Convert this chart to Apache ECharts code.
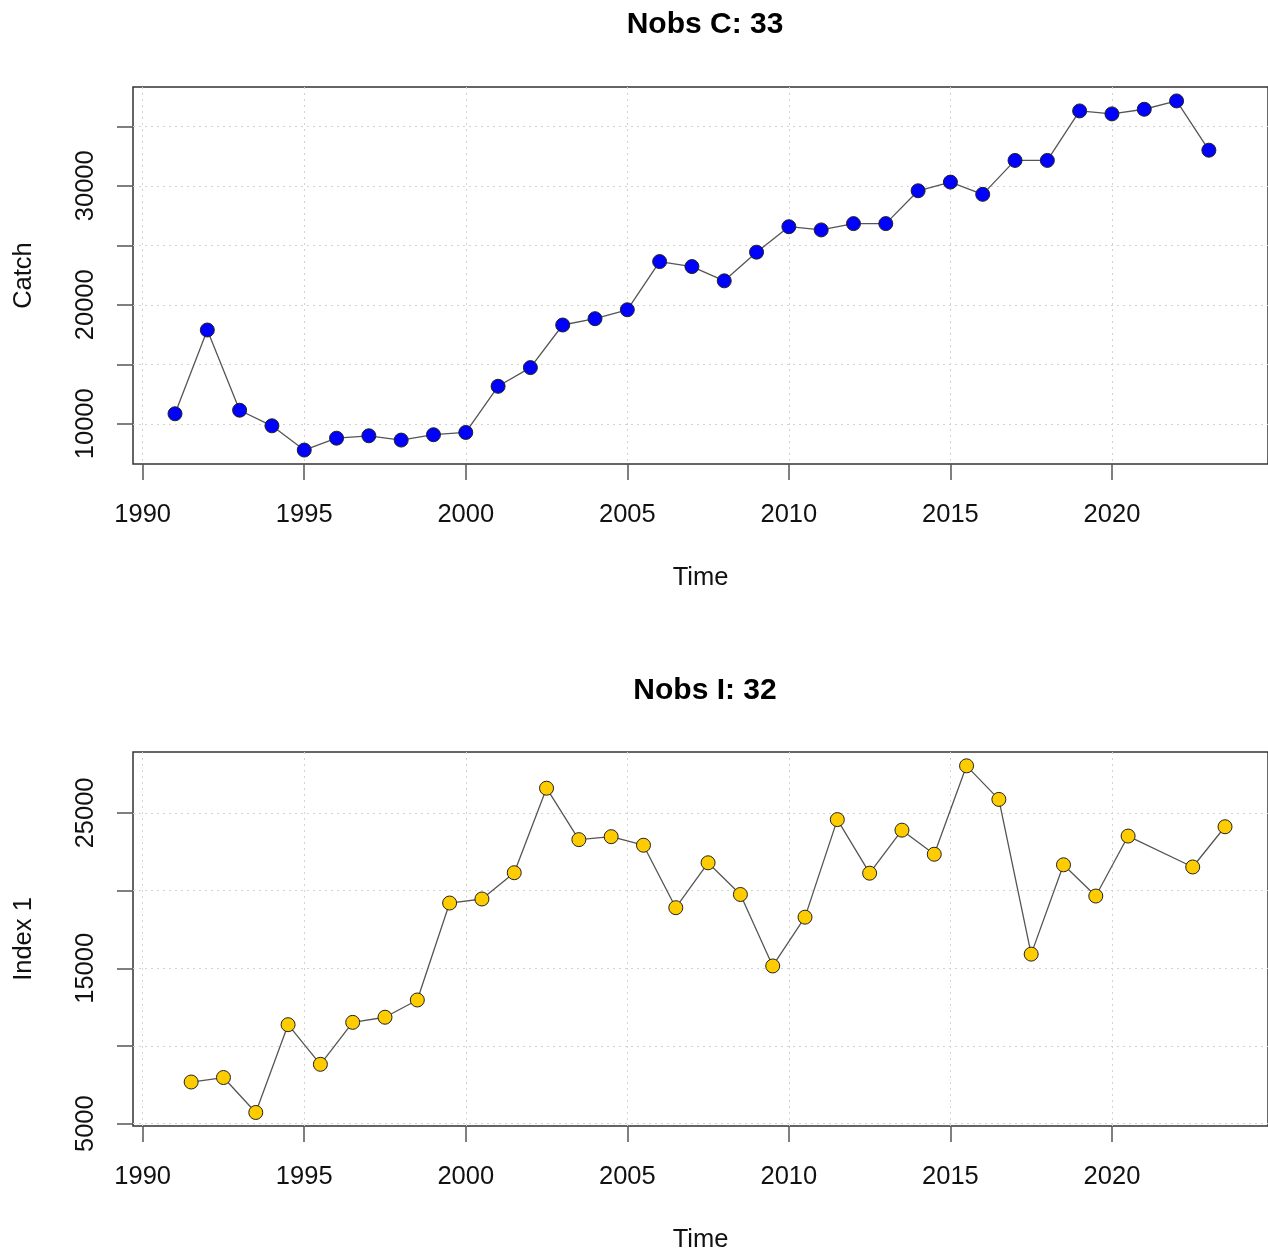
<!DOCTYPE html>
<html>
<head>
<meta charset="utf-8">
<title>Nobs C / Nobs I</title>
<script src="https://cdn.jsdelivr.net/npm/echarts@6/dist/echarts.min.js"></script>
<style>
  html, body { margin: 0; padding: 0; background: #fff; }
  #chart { width: 1268px; height: 1254px; }
</style>
</head>
<body>
<div id="chart"></div>
<script>
// Catch observations (one per year)
const catchYears = [1991, 1992, 1993, 1994, 1995, 1996, 1997, 1998, 1999, 2000,
  2001, 2002, 2003, 2004, 2005, 2006, 2007, 2008, 2009, 2010,
  2011, 2012, 2013, 2014, 2015, 2016, 2017, 2018, 2019, 2020,
  2021, 2022, 2023];
const catchValues = [10840, 17880, 11140, 9830, 7790, 8790, 8990, 8630, 9080, 9270,
  13150, 14720, 18300, 18830, 19580, 23630, 23210, 22010, 24420, 26560,
  26290, 26820, 26820, 29580, 30310, 29280, 32130, 32130, 36290, 36040,
  36430, 37130, 32990];

// Index 1 observations (mid-year survey; 2021.5 missing)
const indexYears = [1991.5, 1992.5, 1993.5, 1994.5, 1995.5, 1996.5, 1997.5, 1998.5, 1999.5, 2000.5,
  2001.5, 2002.5, 2003.5, 2004.5, 2005.5, 2006.5, 2007.5, 2008.5, 2009.5, 2010.5,
  2011.5, 2012.5, 2013.5, 2014.5, 2015.5, 2016.5, 2017.5, 2018.5, 2019.5, 2020.5,
  2022.5, 2023.5];
const indexValues = [7680, 7970, 5720, 11370, 8820, 11520, 11850, 12960, 19200, 19460,
  21150, 26590, 23280, 23470, 22920, 18900, 21790, 19750, 15150, 18290,
  24570, 21120, 23890, 22340, 28030, 25870, 15910, 21660, 19650, 23510,
  21520, 24110];

// Axis ticks and labels
const timeTicks = [1990, 1995, 2000, 2005, 2010, 2015, 2020];
const catchTicks = [10000, 15000, 20000, 25000, 30000, 35000];
const catchLabels = [10000, 20000, 30000];
const indexTicks = [5000, 10000, 15000, 20000, 25000];
const indexLabels = [5000, 15000, 25000];

const FONT = '"Liberation Sans", Arial, Helvetica, sans-serif';
const TICK_COLOR = '#555';
const GRID_COLOR = '#d3d3d3';
const plain = v => String(v);

function xAxisFor(gridIndex) {
  return {
    type: 'value', gridIndex,
    min: 1989.7, max: 2024.83,
    name: 'Time', nameLocation: 'middle', nameGap: 101,
    nameTextStyle: { fontFamily: FONT, fontSize: 25.5, color: '#111' },
    axisLine: { show: false },
    axisTick: { show: true, length: 16, customValues: timeTicks,
      lineStyle: { color: TICK_COLOR, width: 1.5 } },
    axisLabel: { customValues: timeTicks, formatter: plain, margin: 38,
      fontFamily: FONT, fontSize: 25.5, color: '#111' },
    splitLine: { show: true, lineStyle: { color: GRID_COLOR, type: [2, 4], width: 1 } }
  };
}

function yAxisFor(gridIndex, name, min, max, ticks, labels) {
  return {
    type: 'value', gridIndex, min, max,
    name, nameLocation: 'middle', nameGap: 96, nameRotate: 90,
    nameTextStyle: { fontFamily: FONT, fontSize: 25.5, color: '#111' },
    axisLine: { show: false },
    axisTick: { show: true, length: 16, customValues: ticks,
      lineStyle: { color: TICK_COLOR, width: 1.5 } },
    axisLabel: { customValues: labels, formatter: plain, rotate: 90, margin: 34,
      fontFamily: FONT, fontSize: 25.5, color: '#111' },
    splitLine: { show: true, lineStyle: { color: GRID_COLOR, type: [2, 4], width: 1 } }
  };
}

function seriesFor(idx, xs, ys, fill) {
  return {
    type: 'line', xAxisIndex: idx, yAxisIndex: idx,
    data: xs.map((x, i) => [x, ys[i]]),
    symbol: 'circle', symbolSize: 14,
    lineStyle: { color: '#555', width: 1.3 },
    itemStyle: { color: fill, borderColor: '#222', borderWidth: 1 },
    emphasis: { disabled: true },
    animation: false, z: 3
  };
}

const chart = echarts.init(document.getElementById('chart'), null, { renderer: 'canvas' });
chart.setOption({
  backgroundColor: '#fff',
  animation: false,
  title: [
    { text: 'Nobs C: 33', left: 700, top: 5, textAlign: 'center',
      textStyle: { fontFamily: FONT, fontSize: 30, fontWeight: 'bold', color: '#000' } },
    { text: 'Nobs I: 32', left: 700, top: 671, textAlign: 'center',
      textStyle: { fontFamily: FONT, fontSize: 30, fontWeight: 'bold', color: '#000' } }
  ],
  grid: [
    { left: 133, right: -1, top: 87, height: 377, show: true, borderColor: '#333', borderWidth: 1.5, backgroundColor: 'transparent' },
    { left: 133, right: -1, top: 752, height: 377, show: true, borderColor: '#333', borderWidth: 1.5, backgroundColor: 'transparent' }
  ],
  xAxis: [xAxisFor(0), xAxisFor(1)],
  yAxis: [
    yAxisFor(0, 'Catch', 6620, 38300, catchTicks, catchLabels),
    yAxisFor(1, 'Index 1', 4850, 28920, indexTicks, indexLabels)
  ],
  series: [
    seriesFor(0, catchYears, catchValues, '#0000ff'),
    seriesFor(1, indexYears, indexValues, '#ffcc00')
  ]
});
</script>
</body>
</html>
